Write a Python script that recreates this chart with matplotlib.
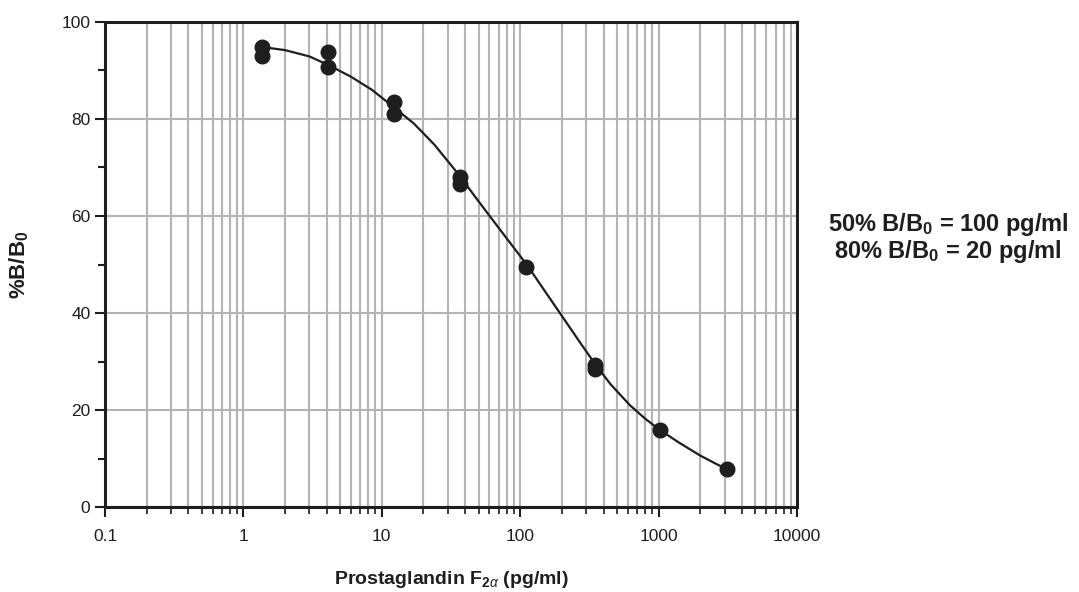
import matplotlib.pyplot as plt
from matplotlib.ticker import LogLocator, NullFormatter, FixedLocator

# standard curve: concentration (pg/ml) and %B/B0 duplicates
conc = [1.37, 1.37, 4.1, 4.1, 12.3, 12.3, 37, 37, 111, 347, 347, 1020, 3100]
bb0 = [94.8, 93.0, 93.8, 90.7, 83.6, 81.1, 68.1, 66.5, 49.5, 29.2, 28.5, 15.9, 7.8]

# fitted curve
curve_x = [1.4, 2, 3, 4.2, 6, 8.5, 12, 17, 24, 34, 38.8, 48, 68, 96, 114, 150, 200,
           265, 347, 450, 620, 800, 1020, 1400, 2000, 2600, 3100]
curve_y = [94.8, 94.2, 92.9, 91.0, 88.7, 86.0, 82.6, 79.1, 74.7, 69.4, 67.3, 63.7, 58.0,
           52.4, 49.6, 44.6, 39.4, 34.3, 29.5, 25.3, 21.0, 18.2, 15.9, 13.3, 10.6, 8.9, 7.8]

x_ticks = [0.1, 1, 10, 100, 1000, 10000]
x_labels = ["0.1", "1", "10", "100", "1000", "10000"]
y_ticks = [0, 20, 40, 60, 80, 100]

plt.rcParams['font.family'] = ['Liberation Sans', 'DejaVu Sans']
plt.rcParams['mathtext.fontset'] = 'custom'
plt.rcParams['mathtext.rm'] = 'Liberation Sans'
plt.rcParams['mathtext.bf'] = 'Liberation Sans:bold'
plt.rcParams['mathtext.it'] = 'Liberation Sans:italic'

fig = plt.figure(figsize=(10.79, 5.92), dpi=100)
ax = fig.add_axes([105 / 1079, 1 - 507 / 592, 692 / 1079, 485 / 592])

grid_col = '#b4b4b4'
ink = '#1e1e1e'
ax.set_xscale('log')
ax.set_xlim(0.1, 10000)
ax.set_ylim(0, 100)

ax.xaxis.set_major_locator(FixedLocator(x_ticks))
ax.set_xticklabels(x_labels)
ax.xaxis.set_minor_locator(LogLocator(base=10, subs=range(2, 10), numticks=20))
ax.xaxis.set_minor_formatter(NullFormatter())
ax.set_yticks(y_ticks)
ax.set_yticks([10, 30, 50, 70, 90], minor=True)

ax.grid(True, which='both', axis='x', color=grid_col, linewidth=1.5)
ax.grid(True, which='major', axis='y', color=grid_col, linewidth=1.5)
ax.set_axisbelow(True)

ax.tick_params(axis='both', which='major', direction='out', length=7, width=1.5,
               labelsize=12.5, color=ink, labelcolor=ink)
ax.tick_params(axis='x', which='minor', direction='out', length=5, width=1.2, color=ink)
ax.tick_params(axis='y', which='minor', direction='out', length=5, width=1.5, color=ink)
ax.tick_params(axis='x', which='major', pad=9)

for s in ax.spines.values():
    s.set_linewidth(2.2)
    s.set_color(ink)

ax.plot(curve_x, curve_y, color=ink, linewidth=1.6, zorder=3)
ax.plot(conc, bb0, 'o', color=ink, markersize=10.5, zorder=4)

ax.set_ylabel('%B/B$_\\mathbf{0}$', fontsize=16, fontweight='bold', labelpad=22, color=ink)
ax.set_xlabel('Prostaglandin F$_{\\mathbf{2}\\alpha}$ (pg/ml)', fontsize=14,
              fontweight='bold', labelpad=18, color=ink)

fig.text(948 / 1079, 1 - 238 / 592,
         '50% B/B$_\\mathbf{0}$ = 100 pg/ml\n80% B/B$_\\mathbf{0}$ = 20 pg/ml',
         ha='center', va='center', fontsize=17, fontweight='bold', color=ink,
         linespacing=1.0)

fig.savefig('out.png', dpi=100)
